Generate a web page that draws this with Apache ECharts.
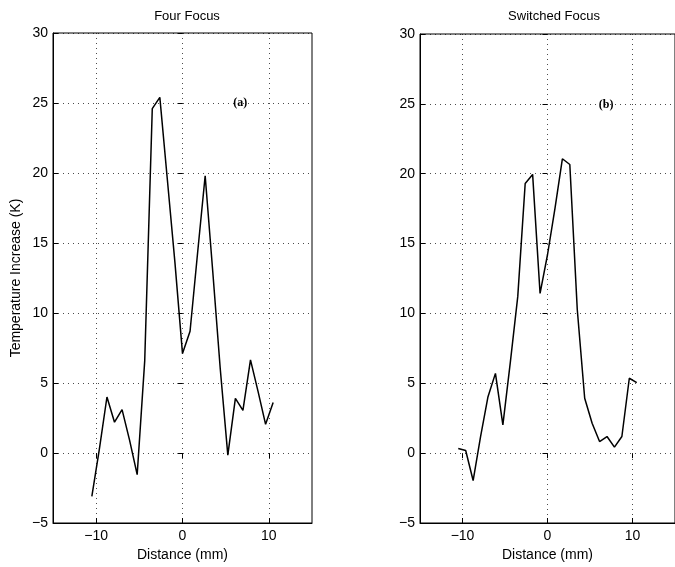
<!DOCTYPE html>
<html>
<head>
<meta charset="utf-8">
<script src="https://cdn.jsdelivr.net/npm/echarts@6/dist/echarts.min.js"></script>
<style>html,body{margin:0;padding:0;background:#fff}#c{width:675px;height:567px}</style>
</head>
<body>
<div id="c"></div>
<script>
const distance = [-10.5, -9.625, -8.75, -7.875, -7, -6.125, -5.25, -4.375, -3.5, -2.625, -1.75, -0.875, 0, 0.875, 1.75, 2.625, 3.5, 4.375, 5.25, 6.125, 7, 7.875, 8.75, 9.625, 10.5];
const fourFocus = [-3.1, 0.3, 4.0, 2.2, 3.1, 0.9, -1.55, 6.6, 24.6, 25.4, 19.5, 13.6, 7.1, 8.7, 14.3, 19.8, 13.0, 6.0, -0.15, 3.9, 3.05, 6.65, 4.4, 2.05, 3.6];
const switchedFocus = [0.33, 0.19, -1.96, 1.19, 4.04, 5.71, 2.02, 6.5, 11.2, 19.3, 19.95, 11.43, 14.2, 17.5, 21.07, 20.66, 10.3, 3.93, 2.14, 0.83, 1.19, 0.43, 1.19, 5.36, 5.05];
const xTicks = [-10, 0, 10];
const titles = ['Four Focus', 'Switched Focus'];
const panelTags = ['(a)', '(b)'];
const tagPos = [[6.7, 25.0], [6.9, 24.9]];

const font = 'Liberation Sans';
const minus = v => String(v).replace('-', '\u2212');
const dotted = { show: true, lineStyle: { color: '#000', width: 1, type: [1, 4], opacity: 0.7 } };

const grids = [
  { left: 53, top: 33, width: 259, height: 490, show: true, borderColor: '#000', borderWidth: 1 },
  { left: 420, top: 34, width: 258, height: 489, show: true, borderColor: '#000', borderWidth: 1 }
];

const xAxes = [], yAxes = [], series = [];
[0, 1].forEach(i => {
  xAxes.push({
    type: 'value', gridIndex: i, min: -15, max: 15, position: 'bottom',
    name: 'Distance (mm)', nameLocation: 'middle', nameGap: 22,
    nameTextStyle: { fontFamily: font, fontSize: 14, color: '#000' },
    axisLine: { show: true, onZero: false, lineStyle: { color: '#000' } },
    axisTick: { show: true, inside: true, length: 5, customValues: xTicks, lineStyle: { color: '#000' } },
    axisLabel: { customValues: xTicks, formatter: minus, fontFamily: font, fontSize: 14, color: '#000', margin: 6 },
    splitLine: dotted
  });
  xAxes.push({
    type: 'value', gridIndex: i, min: -15, max: 15, position: 'top',
    axisLine: { show: false },
    axisTick: { show: true, inside: true, length: 5, customValues: xTicks, lineStyle: { color: '#000' } },
    axisLabel: { show: false },
    splitLine: { show: false }
  });
  yAxes.push({
    type: 'value', gridIndex: i, min: -5, max: 30, interval: 5, position: 'left',
    name: i === 0 ? 'Temperature Increase (K)' : '', nameLocation: 'middle', nameGap: 30,
    nameTextStyle: { fontFamily: font, fontSize: 14, color: '#000' },
    axisLine: { show: true, onZero: false, lineStyle: { color: '#000' } },
    axisTick: { show: true, inside: true, length: 5, lineStyle: { color: '#000' } },
    axisLabel: { formatter: minus, fontFamily: font, fontSize: 14, color: '#000', margin: 5 },
    splitLine: dotted
  });
  yAxes.push({
    type: 'value', gridIndex: i, min: -5, max: 30, interval: 5, position: 'right',
    axisLine: { show: false },
    axisTick: { show: true, inside: true, length: 5, lineStyle: { color: '#000' } },
    axisLabel: { show: false },
    splitLine: { show: false }
  });
});

[fourFocus, switchedFocus].forEach((vals, i) => {
  series.push({
    type: 'line', xAxisIndex: i * 2, yAxisIndex: i * 2,
    data: distance.map((d, k) => [d, vals[k]]),
    symbol: 'none', silent: true, animation: false,
    lineStyle: { color: '#000', width: 1.5 },
    markPoint: {
      symbol: 'circle', symbolSize: 0, silent: true, animation: false,
      data: [{ coord: tagPos[i], value: panelTags[i] }],
      label: { show: true, position: 'inside', formatter: panelTags[i], fontFamily: 'Liberation Serif', fontWeight: 'bold', fontSize: 12, color: '#000' }
    }
  });
});

const chart = echarts.init(document.getElementById('c'), null, { renderer: 'canvas' });
chart.setOption({
  animation: false,
  backgroundColor: '#fff',
  title: [
    { text: titles[0], left: 182, top: 5, textAlign: 'center', textStyle: { fontFamily: font, fontSize: 13, fontWeight: 'normal', color: '#000' } },
    { text: titles[1], left: 549, top: 5, textAlign: 'center', textStyle: { fontFamily: font, fontSize: 13, fontWeight: 'normal', color: '#000' } }
  ],
  grid: grids,
  xAxis: xAxes,
  yAxis: yAxes,
  series: series
});
</script>
</body>
</html>
